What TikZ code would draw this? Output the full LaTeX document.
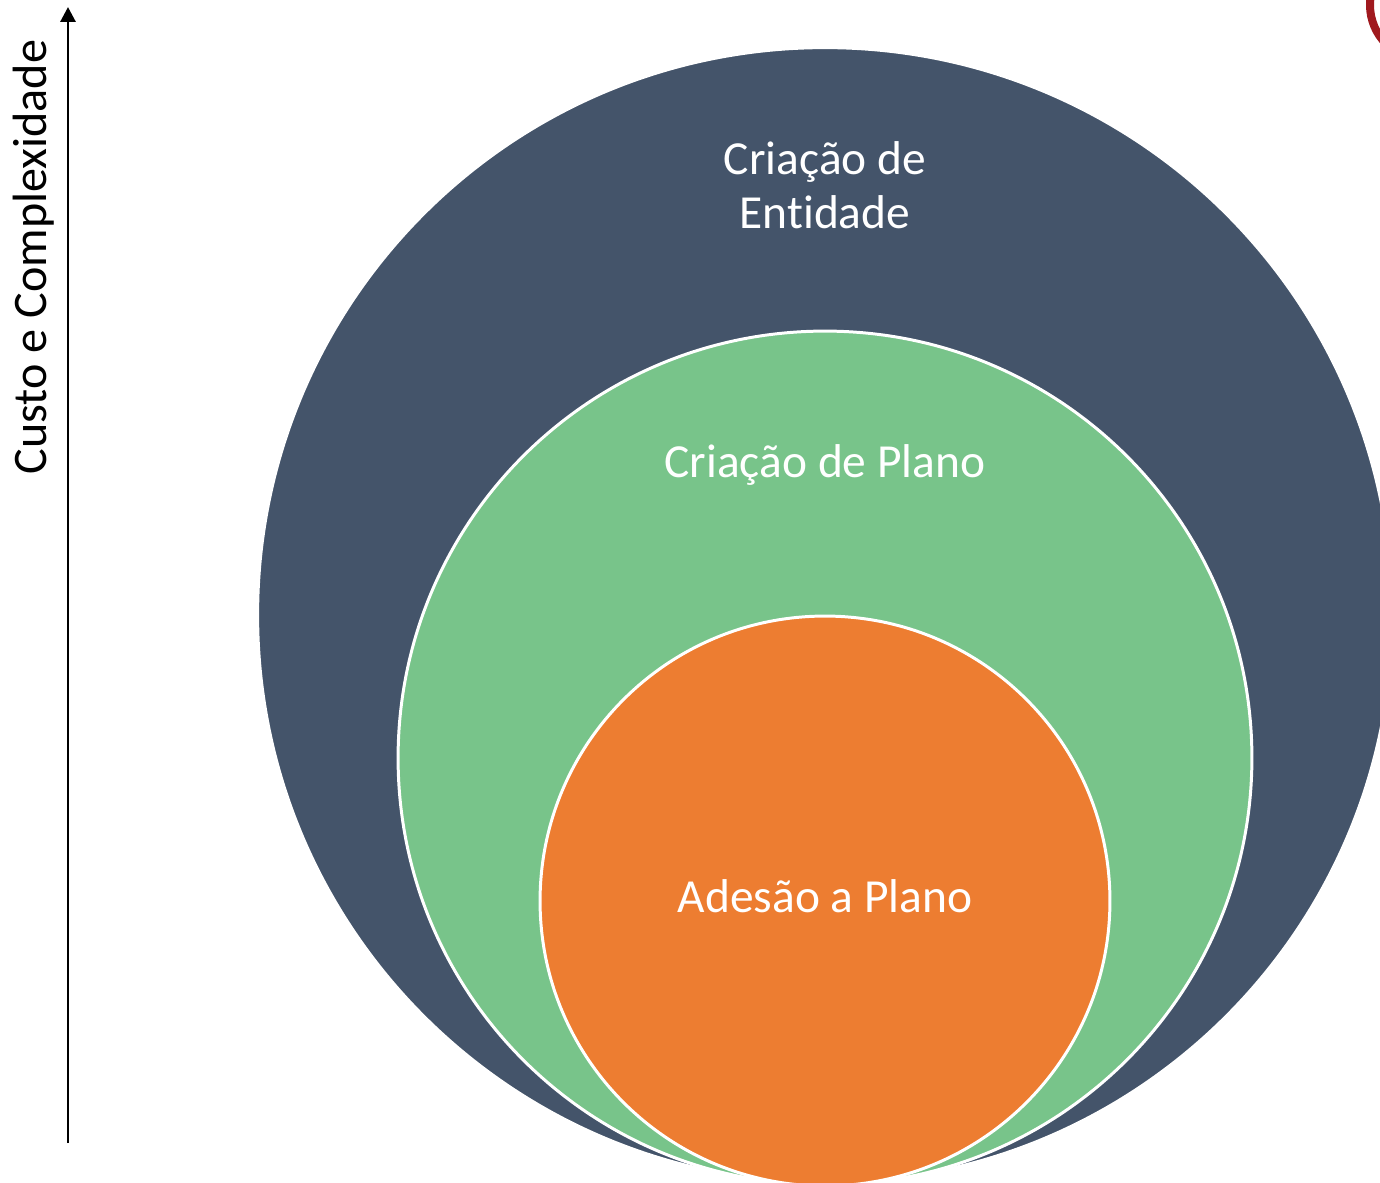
\documentclass[tikz,border=0pt]{standalone}
\usepackage{fontspec}
\setmainfont{Carlito}[Ligatures=CommonOff]
\usepackage{tikz}
\usetikzlibrary{arrows.meta}

\definecolor{entidadecol}{HTML}{44546A}
\definecolor{planocol}{HTML}{78C48A}
\definecolor{adesaocol}{HTML}{ED7D31}
\definecolor{marcacol}{HTML}{A0191E}

\begin{document}
\begin{tikzpicture}[x=0.02cm, y=-0.02cm]
    % Define styles
    \tikzstyle{ring} = [circle, draw=white, line width=1.7pt, inner sep=0pt]
    \tikzstyle{caption} = [text=white, align=center, anchor=base, font=\fontsize{27}{30.2}\selectfont]
    \tikzstyle{axis} = [line width=1.7pt, -{Triangle[length=0.3cm, width=0.3cm]}]

    \useasboundingbox (0,0) rectangle (1380,1183);

    % Circles
    \node (entidade) [ring, fill=entidadecol, minimum size=22.7cm] at (825,615) {};
    \node (plano) [ring, fill=planocol, minimum size=17.08cm] at (825,758) {};
    \node (adesao) [ring, fill=adesaocol, minimum size=11.4cm] at (825,901) {};

    % Texts
    \node (tentidade) [caption] at (825,228) {Criação de\\Entidade};
    \node (tplano) [caption] at (825,477) {Criação de Plano};
    \node (tadesao) [caption] at (825,912) {Adesão a Plano};

    % Axis
    \coordinate (axisbottom) at (68,1143);
    \coordinate (axistop) at (68,7);
    \draw [axis] (axisbottom) -- (axistop);
    \node (axislabel) [rotate=90, anchor=base, font=\fontsize{27.4}{30}\selectfont] at (47,257) {Custo e Complexidade};

    % Cut-off mark at the corner
    \draw [marcacol, line width=0.16cm] (1425,5) circle [radius=55];
\end{tikzpicture}
\end{document}
